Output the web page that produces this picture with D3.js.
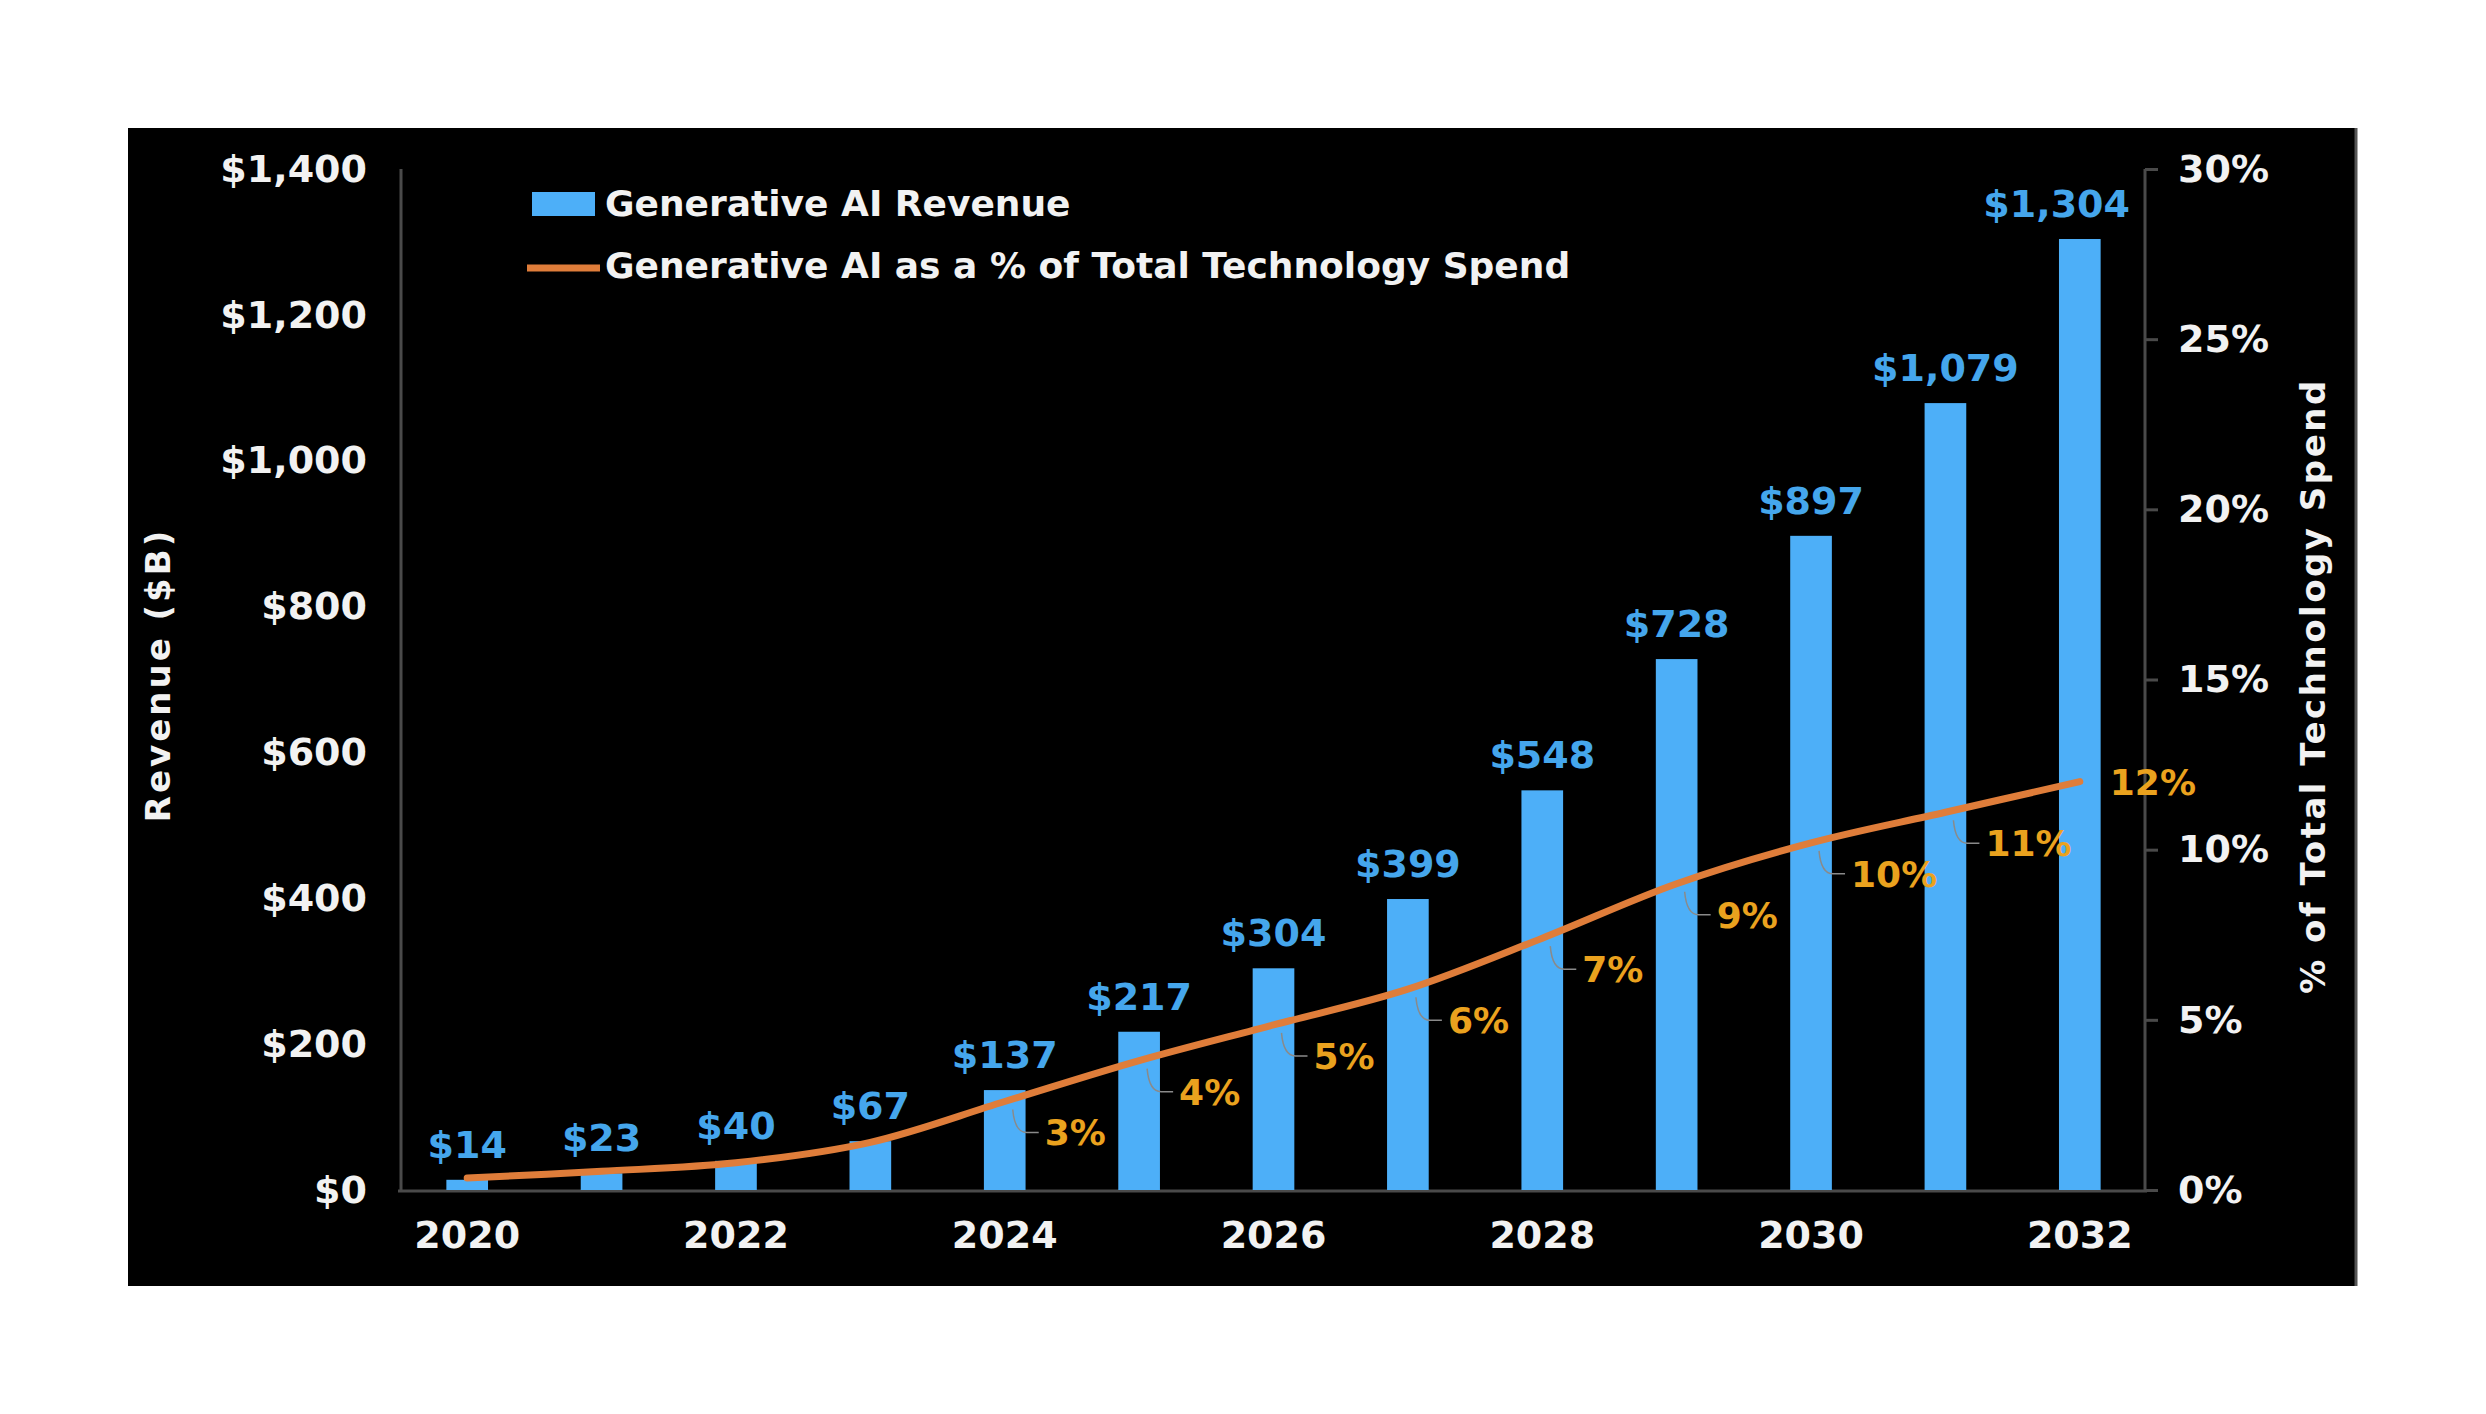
<!doctype html>
<html lang="en">
<head>
<meta charset="UTF-8">
<title>Generative AI Revenue</title>
<style>
  body { margin: 0; background: #fff; }
  text { font-family: "DejaVu Sans", Verdana, sans-serif; font-weight: bold; }
</style>
</head>
<body>
<script src="https://cdn.jsdelivr.net/npm/d3@7"></script>
<script>
// data
var years = [2020, 2021, 2022, 2023, 2024, 2025, 2026, 2027, 2028, 2029, 2030, 2031, 2032];
var revenue = [14, 23, 40, 67, 137, 217, 304, 399, 548, 728, 897, 1079, 1304];
var pctSpend = [0.35, 0.55, 0.8, 1.4, 2.6, 3.8, 4.85, 5.9, 7.4, 9.0, 10.2, 11.1, 12.0];
var pctLabels = ["", "", "", "", "3%", "4%", "5%", "6%", "7%", "9%", "10%", "11%", "12%"];
var yearTicks = [2020, 2022, 2024, 2026, 2028, 2030, 2032];
var revTicks = [0, 200, 400, 600, 800, 1000, 1200, 1400];
var pctTicks = [0, 5, 10, 15, 20, 25, 30];

var W = 2486, H = 1414;
var BLUE = "#4daff8", BLUE_TXT = "#45a6ec", ORANGE = "#df7d3a", GOLD = "#eaa21e", AXIS = "#4a4a4a";

var svg = d3.select("body").append("svg").attr("width", W).attr("height", H);

// black panel
svg.append("rect")
  .attr("x", 128).attr("y", 128).attr("width", 2229).attr("height", 1158)
  .attr("fill", "#000");
svg.append("line")
  .attr("x1", 2356).attr("x2", 2356).attr("y1", 128).attr("y2", 1286)
  .attr("stroke", "#555").attr("stroke-width", 3);

var x = d3.scaleBand().domain(years).range([400, 2147]).paddingInner(0.69).paddingOuter(0.345);
var y = d3.scaleLinear().domain([0, 1400]).range([1190, 169]);
var y2 = d3.scaleLinear().domain([0, 30]).range([1190, 169]);
var cx = function(d) { return x(d) + x.bandwidth() / 2; };

// left axis
var gL = svg.append("g").attr("transform", "translate(401,0)")
  .call(d3.axisLeft(y).tickValues(revTicks).tickSize(0).tickPadding(34)
    .tickFormat(function(d) { return "$" + d3.format(",")(d); }));
// right axis
var gR = svg.append("g").attr("transform", "translate(2145,0)")
  .call(d3.axisRight(y2).tickValues(pctTicks).tickSize(13).tickPadding(20)
    .tickFormat(function(d) { return d + "%"; }));
// bottom axis
var gB = svg.append("g").attr("transform", "translate(0,1191)")
  .call(d3.axisBottom(x).tickValues(yearTicks).tickSize(0).tickPadding(30));

[gL, gR, gB].forEach(function(g) {
  g.select(".domain").attr("stroke", AXIS).attr("stroke-width", 3);
  g.selectAll(".tick line").attr("stroke", AXIS).attr("stroke-width", 3);
  g.selectAll(".tick text").attr("fill", "#f2f2f2").attr("font-size", 38)
    .attr("font-family", "DejaVu Sans").attr("font-weight", "bold");
});
gB.select(".domain").attr("d", "M398,0H2147");
gR.select(".domain").attr("d", "M0,169V1190");
gL.select(".domain").attr("d", "M0,169V1190");

// bars
svg.append("g").selectAll("rect").data(years).enter().append("rect")
  .attr("x", function(d) { return x(d); })
  .attr("y", function(d, i) { return y(revenue[i]); })
  .attr("width", x.bandwidth())
  .attr("height", function(d, i) { return y(0) - y(revenue[i]); })
  .attr("fill", BLUE);

// bar labels, kept clear of the right axis
svg.append("g").selectAll("text").data(years).enter().append("text")
  .attr("x", cx)
  .attr("y", function(d, i) { return y(revenue[i]) - 22; })
  .attr("text-anchor", "middle")
  .attr("font-size", 38)
  .attr("fill", BLUE_TXT)
  .text(function(d, i) { return "$" + d3.format(",")(revenue[i]); })
  .each(function(d) {
    var w = this.getComputedTextLength();
    var over = cx(d) + w / 2 - 2130;
    if (over > 0) d3.select(this).attr("x", cx(d) - over);
  });

// percentage line
var line = d3.line()
  .x(function(d) { return cx(d); })
  .y(function(d, i) { return y2(pctSpend[i]); })
  .curve(d3.curveCatmullRom.alpha(0.5));
svg.append("path").datum(years)
  .attr("d", line)
  .attr("fill", "none")
  .attr("stroke", ORANGE)
  .attr("stroke-width", 7)
  .attr("stroke-linecap", "round");

// percentage labels with small leader lines
var last = years.length - 1;
var pl = svg.append("g");
years.forEach(function(d, i) {
  if (!pctLabels[i]) return;
  var px = cx(d), py = y2(pctSpend[i]);
  if (i === last) {
    pl.append("text").attr("x", px + 30).attr("y", py)
      .attr("dy", "0.36em").attr("font-size", 36).attr("fill", GOLD)
      .text(pctLabels[i]);
    return;
  }
  pl.append("path")
    .attr("d", "M" + (px + 8) + "," + (py + 8) + "Q" + (px + 10) + "," + (py + 31) + " " + (px + 22) + "," + (py + 31) + "H" + (px + 34))
    .attr("fill", "none").attr("stroke", "#8a8a8a").attr("stroke-width", 1.5);
  pl.append("text").attr("x", px + 40).attr("y", py + 31)
    .attr("dy", "0.36em").attr("font-size", 36).attr("fill", GOLD)
    .text(pctLabels[i]);
});

// axis titles
svg.append("text")
  .attr("transform", "translate(170,675) rotate(-90)")
  .attr("text-anchor", "middle").attr("font-size", 34).attr("letter-spacing", 3)
  .attr("fill", "#f2f2f2")
  .text("Revenue ($B)");
svg.append("text")
  .attr("transform", "translate(2325,686) rotate(-90)")
  .attr("text-anchor", "middle").attr("font-size", 34).attr("letter-spacing", 2.5)
  .attr("fill", "#f2f2f2")
  .text("% of Total Technology Spend");

// legend
var lg = svg.append("g");
lg.append("rect").attr("x", 532).attr("y", 192).attr("width", 63).attr("height", 24).attr("fill", BLUE);
lg.append("text").attr("x", 605).attr("y", 203).attr("dy", "0.36em")
  .attr("font-size", 36).attr("fill", "#f2f2f2").text("Generative AI Revenue");
lg.append("line").attr("x1", 527).attr("x2", 600).attr("y1", 268).attr("y2", 268)
  .attr("stroke", ORANGE).attr("stroke-width", 7);
lg.append("text").attr("x", 605).attr("y", 265).attr("dy", "0.36em")
  .attr("font-size", 36).attr("fill", "#f2f2f2").text("Generative AI as a % of Total Technology Spend");
</script>
</body>
</html>
